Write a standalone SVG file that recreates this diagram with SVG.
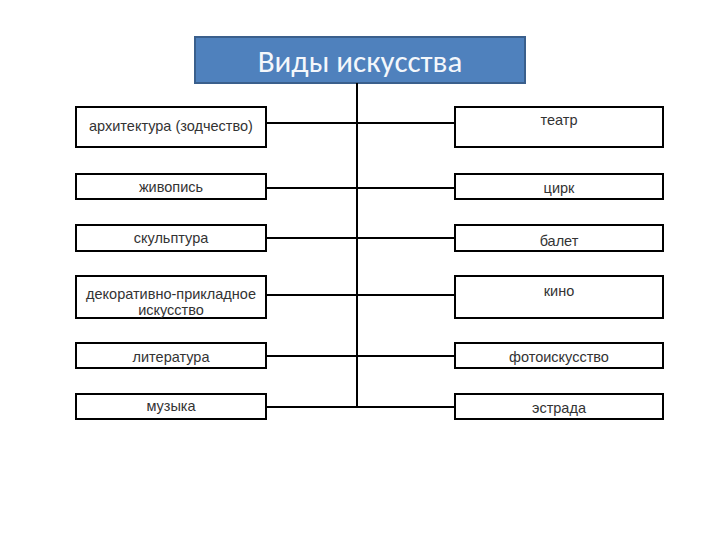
<svg xmlns="http://www.w3.org/2000/svg" width="720" height="540" viewBox="0 0 720 540">
<style>
.box{fill:#fff;stroke:#000;stroke-width:2}
.t{font-family:"Liberation Sans",Arial,sans-serif;font-size:14.5px;fill:#333;text-anchor:middle}
.c{stroke:#000;stroke-width:2;fill:none}
</style>
<rect width="720" height="540" fill="#fff"/>
<g id="title">
<rect x="195" y="37" width="330" height="46" fill="#4F81BD" stroke="#3A5F8C" stroke-width="2"/>
<text x="360" y="72" font-family="Carlito,'Liberation Sans',sans-serif" font-size="31" fill="#F4F7FB" text-anchor="middle">Виды искусства</text>
</g>
<g id="connectors">
<line class="c" x1="357" y1="83" x2="357" y2="408"/>
<line class="c" x1="266" y1="123" x2="455" y2="123"/>
<line class="c" x1="266" y1="188" x2="455" y2="188"/>
<line class="c" x1="266" y1="238" x2="455" y2="238"/>
<line class="c" x1="266" y1="295" x2="455" y2="295"/>
<line class="c" x1="266" y1="356" x2="455" y2="356"/>
<line class="c" x1="266" y1="407" x2="455" y2="407"/>
</g>
<g id="l1"><rect class="box" x="76" y="107" width="190" height="40"/><text class="t" x="171" y="131">архитектура  (зодчество)</text></g>
<g id="l2"><rect class="box" x="76" y="174" width="190" height="25"/><text class="t" x="171" y="192">живопись</text></g>
<g id="l3"><rect class="box" x="76" y="225" width="190" height="26"/><text class="t" x="171" y="243">скульптура</text></g>
<g id="l4"><rect class="box" x="76" y="276" width="190" height="42"/><text class="t" x="171" y="299">декоративно-прикладное</text><text class="t" x="171" y="315">искусство</text></g>
<g id="l5"><rect class="box" x="76" y="343" width="190" height="25"/><text class="t" x="171" y="362">литература</text></g>
<g id="l6"><rect class="box" x="76" y="394" width="190" height="25"/><text class="t" x="171" y="411">музыка</text></g>
<g id="r1"><rect class="box" x="455" y="107" width="208" height="40"/><text class="t" x="559" y="125">театр</text></g>
<g id="r2"><rect class="box" x="455" y="174" width="208" height="25"/><text class="t" x="559" y="193">цирк</text></g>
<g id="r3"><rect class="box" x="455" y="225" width="208" height="26"/><text class="t" x="559" y="246">балет</text></g>
<g id="r4"><rect class="box" x="455" y="276" width="208" height="42"/><text class="t" x="559" y="296">кино</text></g>
<g id="r5"><rect class="box" x="455" y="343" width="208" height="25"/><text class="t" x="559" y="362">фотоискусство</text></g>
<g id="r6"><rect class="box" x="455" y="394" width="208" height="25"/><text class="t" x="559" y="413">эстрада</text></g>
</svg>
